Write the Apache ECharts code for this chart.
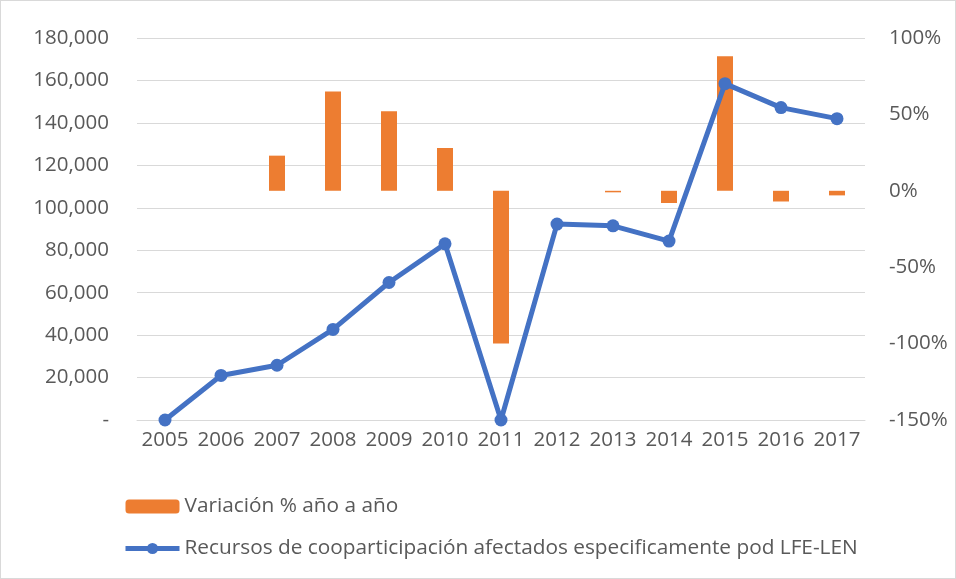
<!DOCTYPE html>
<html>
<head>
<meta charset="utf-8">
<script src="https://cdn.jsdelivr.net/npm/echarts@6/dist/echarts.min.js"></script>
<style>
  html, body { margin: 0; padding: 0; background: #fff; }
  #main { width: 956px; height: 579px; box-sizing: border-box; border: 1px solid #d9d9d9; }
</style>
</head>
<body>
<!-- contenedor del grafico -->
<div id="main"></div>
<script>
  var years = ['2005', '2006', '2007', '2008', '2009', '2010', '2011', '2012', '2013', '2014', '2015', '2016', '2017'];
  // variación % año a año (eje derecho)
  var variacion = [null, null, 23, 65, 52, 28, -100, null, -1, -8, 88, -7, -3];
  // recursos afectados (eje izquierdo)
  var recursos = [0, 21000, 25800, 42700, 64800, 83000, 0, 92300, 91500, 84300, 158500, 147200, 142000];

  var nombreBarra = 'Variación % año a año';
  var nombreLinea = 'Recursos de cooparticipación afectados especificamente pod LFE-LEN';

  var fuente = 'Open Sans';
  var gris = '#595959';
  var tam = 20.5;

  var chart = echarts.init(document.getElementById('main'));
  chart.setOption({
    animation: false,
    textStyle: { fontFamily: fuente },
    grid: { left: 136, right: 90, top: 37, bottom: 158 },
    legend: {
      orient: 'vertical',
      left: 117,
      top: 490,
      itemGap: 21,
      itemWidth: 54,
      itemHeight: 14,
      textStyle: { fontSize: 20.8, color: gris, fontFamily: fuente },
      data: [
        { name: nombreBarra },
        { name: nombreLinea, lineStyle: { width: 5 } }
      ]
    },
    xAxis: {
      type: 'category',
      data: years,
      axisLine: { lineStyle: { color: '#d9d9d9' } },
      axisTick: { show: false },
      axisLabel: { color: gris, fontSize: tam, margin: 10, interval: 0 }
    },
    yAxis: [
      {
        type: 'value',
        min: 0,
        max: 180000,
        interval: 20000,
        axisLine: { show: false },
        axisTick: { show: false },
        splitLine: { lineStyle: { color: '#d9d9d9', width: 1 } },
        axisLabel: {
          color: gris,
          fontSize: tam,
          margin: 28,
          formatter: function (v) {
            return v === 0 ? '-' : v.toLocaleString('en-US');
          }
        }
      },
      {
        type: 'value',
        min: -150,
        max: 100,
        interval: 50,
        position: 'right',
        axisLine: { show: false },
        axisTick: { show: false },
        splitLine: { show: false },
        axisLabel: { color: gris, fontSize: tam, margin: 24, formatter: '{value}%' }
      }
    ],
    series: [
      {
        name: nombreBarra,
        type: 'bar',
        yAxisIndex: 1,
        barWidth: 16,
        itemStyle: { color: '#ED7D31' },
        data: variacion
      },
      {
        name: nombreLinea,
        type: 'line',
        yAxisIndex: 0,
        symbol: 'circle',
        symbolSize: 13,
        lineStyle: { color: '#4472C4', width: 5 },
        itemStyle: { color: '#4472C4' },
        data: recursos
      }
    ]
  });
</script>
</body>
</html>
